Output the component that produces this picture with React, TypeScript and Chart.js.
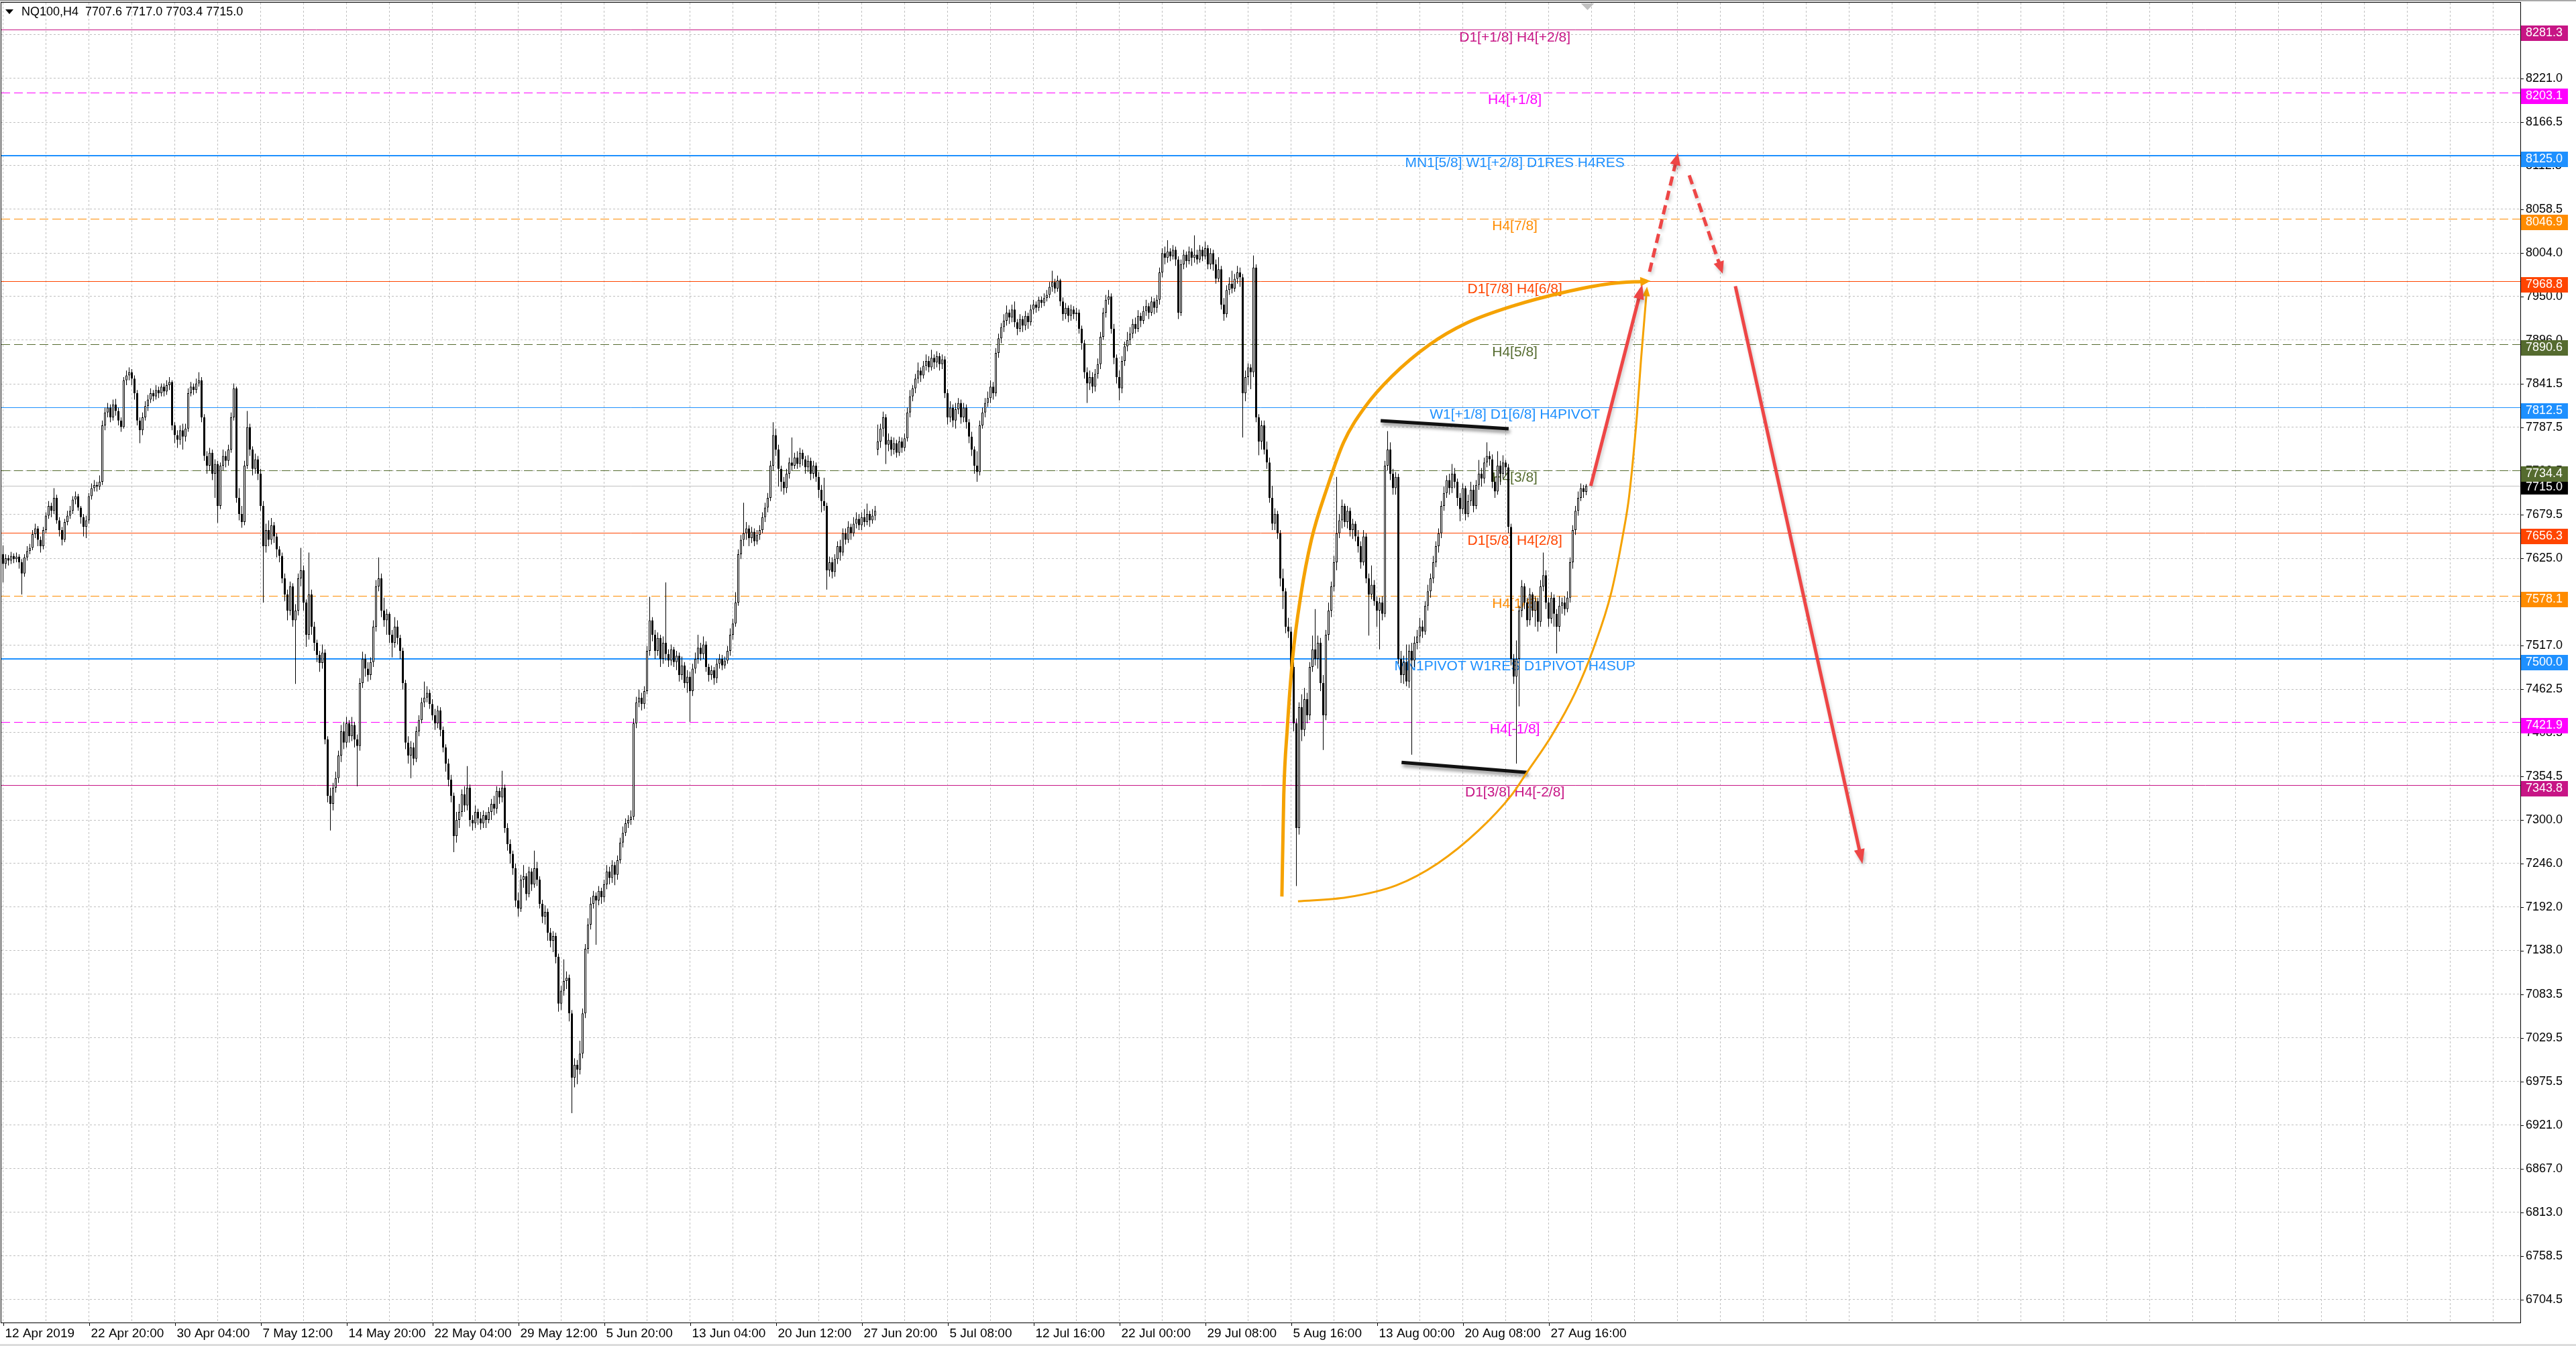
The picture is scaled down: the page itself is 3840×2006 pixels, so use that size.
import React, { useEffect, useRef } from "react";
import { Chart, registerables } from "chart.js";

Chart.register(...registerables);

// ---------------- DATA ----------------
const symbolTitle = "NQ100,H4";

const opens = [
7630,7618,7625,7622,7628,7624,7627,7620,7606,7626,
7634,7638,7655,7662,7648,7640,7660,7678,7690,7684,
7700,7672,7660,7648,7670,7678,7684,7698,7702,7688,
7676,7664,7672,7702,7712,7716,7714,7720,7790,7806,
7812,7800,7816,7808,7796,7788,7846,7852,7856,7848,
7830,7796,7784,7800,7814,7822,7830,7826,7834,7830,
7838,7832,7840,7844,7790,7778,7772,7784,7776,7786,
7830,7838,7834,7842,7846,7800,7752,7740,7756,7730,
7742,7690,7740,7752,7746,7760,7800,7836,7700,7680,
7670,7740,7788,7760,7736,7748,7730,7690,7640,7660,
7648,7666,7652,7636,7628,7600,7580,7560,7590,7548,
7560,7600,7610,7570,7530,7580,7540,7520,7505,7495,
7508,7400,7330,7320,7340,7352,7380,7410,7396,7420,
7404,7418,7400,7392,7470,7500,7488,7480,7496,7540,
7590,7600,7560,7548,7556,7530,7520,7540,7526,7510,
7470,7396,7380,7390,7376,7410,7424,7446,7452,7458,
7444,7430,7420,7436,7412,7390,7370,7350,7330,7280,
7300,7310,7332,7318,7340,7300,7296,7310,7302,7296,
7306,7300,7310,7320,7314,7336,7328,7340,7290,7270,
7258,7240,7200,7190,7226,7230,7208,7236,7220,7240,
7226,7196,7180,7186,7160,7150,7156,7130,7072,7088,
7100,7104,7060,6980,6996,6990,7010,7060,7140,7170,
7196,7206,7200,7212,7204,7220,7236,7228,7244,7232,
7250,7272,7284,7296,7300,7304,7420,7446,7452,7444,
7460,7510,7548,7530,7510,7526,7500,7520,7506,7498,
7512,7496,7504,7480,7492,7470,7478,7460,7488,7500,
7514,7506,7518,7490,7480,7486,7476,7494,7500,7492,
7498,7510,7530,7544,7570,7630,7648,7656,7662,7650,
7658,7646,7654,7660,7676,7688,7700,7740,7778,7760,
7736,7720,7712,7730,7744,7740,7750,7742,7756,7748,
7738,7746,7730,7740,7726,7710,7696,7690,7610,7620,
7608,7624,7640,7632,7656,7648,7664,7656,7668,7674,
7666,7676,7670,7680,7672,7678,7760,7770,7786,7800,
7766,7772,7760,7768,7756,7770,7762,7774,7806,7826,
7836,7848,7858,7852,7864,7870,7862,7874,7868,7876,
7866,7872,7830,7800,7812,7796,7810,7818,7800,7812,
7794,7776,7760,7740,7732,7790,7806,7818,7824,7838,
7830,7880,7898,7912,7920,7930,7924,7934,7918,7910,
7922,7914,7926,7918,7934,7940,7936,7946,7942,7948,
7952,7962,7968,7960,7970,7944,7928,7936,7926,7934,
7928,7930,7910,7892,7856,7842,7850,7838,7854,7866,
7900,7930,7946,7950,7910,7874,7850,7836,7870,7888,
7896,7904,7916,7910,7926,7920,7932,7938,7930,7944,
7936,7946,7980,8004,7998,8006,8000,8008,7996,7930,
7990,8002,7994,8006,7998,8002,7996,8008,8000,8010,
7990,8004,7990,7972,7984,7940,7928,7958,7966,7960,
7972,7980,7974,7830,7850,7862,7856,7986,7800,7770,
7790,7760,7744,7700,7668,7680,7656,7600,7584,7540,
7534,7490,7420,7290,7440,7412,7450,7430,7490,7512,
7500,7520,7470,7430,7530,7560,7590,7620,7656,7672,
7690,7670,7684,7660,7668,7652,7640,7620,7652,7600,
7580,7592,7572,7560,7570,7556,7740,7760,7730,7712,
7726,7500,7480,7496,7472,7510,7498,7520,7528,7540,
7534,7566,7584,7600,7620,7640,7656,7690,7706,7722,
7712,7730,7720,7700,7686,7712,7680,7696,7710,7690,
7716,7730,7724,7744,7752,7748,7720,7708,7740,7730,
7744,7738,7664,7500,7478,7500,7560,7590,7570,7548,
7580,7560,7572,7546,7590,7604,7570,7550,7576,7556,
7540,7566,7570,7562,7576,7620,7660,7684,7700,7712,
7707.6
];

const highs = [
7641,7630,7629,7633,7631,7632,7630,7624,7630,7640,
7643,7660,7668,7665,7652,7664,7682,7696,7694,7712,
7704,7676,7664,7674,7684,7690,7702,7708,7705,7690,
7680,7678,7706,7718,7722,7720,7728,7796,7812,7818,
7816,7822,7823,7812,7800,7850,7858,7862,7860,7852,
7834,7800,7806,7820,7828,7836,7834,7840,7838,7842,
7842,7846,7850,7846,7794,7784,7790,7792,7792,7836,
7844,7842,7848,7856,7850,7804,7758,7762,7760,7748,
7746,7744,7760,7758,7766,7806,7842,7838,7712,7690,
7746,7808,7792,7764,7755,7752,7736,7696,7668,7672,
7675,7670,7656,7640,7632,7606,7586,7596,7594,7568,
7606,7638,7616,7574,7632,7586,7546,7524,7510,7518,
7512,7404,7340,7346,7360,7386,7418,7422,7428,7424,
7428,7422,7406,7476,7509,7506,7496,7502,7548,7598,
7626,7606,7576,7562,7558,7536,7552,7548,7530,7514,
7474,7404,7398,7396,7416,7430,7452,7472,7466,7462,
7450,7438,7442,7440,7416,7394,7376,7356,7334,7310,
7320,7338,7342,7367,7344,7306,7318,7314,7310,7312,
7310,7316,7326,7330,7342,7340,7361,7344,7296,7276,
7262,7246,7210,7232,7244,7234,7242,7240,7262,7248,
7230,7201,7194,7190,7166,7162,7160,7134,7094,7127,
7112,7108,7064,7004,7002,7026,7066,7146,7178,7204,
7212,7210,7218,7216,7226,7244,7242,7250,7248,7256,
7278,7292,7302,7306,7312,7426,7453,7462,7458,7466,
7516,7577,7552,7536,7533,7530,7528,7595,7512,7518,
7515,7510,7508,7503,7496,7486,7484,7494,7508,7530,
7520,7528,7522,7494,7492,7490,7500,7506,7505,7503,
7516,7538,7550,7583,7636,7654,7694,7670,7666,7664,
7662,7660,7666,7682,7694,7706,7746,7794,7786,7766,
7740,7726,7736,7750,7775,7756,7758,7762,7760,7752,
7753,7750,7746,7744,7732,7716,7725,7694,7627,7626,
7630,7646,7648,7662,7662,7671,7668,7676,7682,7680,
7682,7686,7693,7684,7686,7690,7791,7792,7807,7804,
7780,7776,7775,7772,7776,7775,7780,7812,7834,7840,
7854,7868,7862,7870,7878,7876,7884,7878,7882,7880,
7878,7876,7835,7820,7816,7818,7824,7822,7818,7816,
7798,7782,7764,7758,7796,7812,7824,7832,7846,7844,
7886,7904,7917,7928,7939,7934,7940,7944,7922,7928,
7926,7932,7930,7940,7946,7944,7950,7950,7954,7958,
7968,7982,7972,7976,7972,7949,7942,7939,7940,7938,
7936,7934,7914,7896,7862,7858,7856,7860,7873,7906,
7936,7952,7958,7954,7916,7878,7858,7876,7894,7906,
7912,7922,7924,7933,7930,7938,7946,7942,7950,7948,
7952,7986,8010,8012,8020,8010,8014,8012,8000,7996,
8008,8006,8012,8010,8026,8008,8014,8012,8018,8014,
8010,8008,7996,7999,7988,7948,7964,7974,7982,7978,
7988,7986,7978,7858,7867,7866,8001,7990,7804,7796,
7796,7770,7750,7715,7687,7684,7660,7612,7588,7551,
7540,7496,7426,7446,7456,7464,7458,7496,7529,7562,
7529,7526,7480,7536,7570,7596,7628,7726,7680,7698,
7693,7690,7688,7674,7671,7660,7646,7660,7656,7606,
7616,7598,7578,7576,7578,7746,7783,7769,7736,7732,
7730,7510,7504,7518,7518,7520,7528,7536,7551,7548,
7572,7592,7606,7628,7646,7662,7696,7714,7728,7730,
7742,7737,7724,7706,7718,7715,7704,7720,7716,7722,
7747,7737,7750,7769,7758,7754,7726,7758,7746,7753,
7747,7742,7668,7506,7523,7566,7598,7594,7576,7588,
7583,7578,7576,7598,7632,7610,7576,7583,7580,7562,
7578,7576,7578,7584,7626,7666,7690,7708,7718,7716,
7717
];

const lows = [
7595,7612,7616,7618,7619,7620,7612,7580,7602,7622,
7630,7635,7650,7640,7632,7636,7656,7674,7676,7680,
7668,7652,7641,7645,7666,7674,7680,7692,7684,7668,
7652,7650,7668,7698,7708,7708,7710,7716,7784,7800,
7794,7796,7802,7790,7782,7786,7840,7846,7840,7822,
7790,7768,7778,7796,7808,7818,7820,7822,7824,7826,
7826,7828,7834,7784,7768,7762,7766,7760,7770,7782,
7826,7828,7830,7838,7794,7746,7730,7734,7722,7700,
7669,7686,7734,7738,7740,7756,7796,7694,7672,7663,
7666,7736,7752,7728,7730,7722,7684,7570,7632,7640,
7642,7644,7626,7620,7594,7572,7548,7554,7540,7469,
7554,7590,7560,7515,7524,7530,7510,7496,7484,7488,
7394,7322,7287,7312,7334,7346,7372,7388,7390,7396,
7398,7390,7342,7386,7464,7478,7472,7474,7490,7534,
7584,7552,7540,7530,7520,7502,7514,7518,7500,7462,
7388,7370,7352,7368,7372,7404,7420,7440,7446,7438,
7424,7412,7414,7404,7384,7360,7342,7322,7260,7272,
7290,7304,7310,7312,7292,7287,7290,7294,7288,7290,
7290,7296,7300,7306,7308,7320,7322,7284,7262,7246,
7232,7192,7180,7186,7216,7200,7204,7212,7216,7218,
7190,7172,7170,7150,7142,7136,7122,7062,7064,7082,
7090,7050,6936,6968,6972,6984,7004,7054,7134,7164,
7190,7145,7194,7196,7198,7214,7220,7222,7219,7226,
7246,7266,7280,7290,7294,7300,7414,7440,7436,7438,
7456,7504,7522,7500,7504,7490,7494,7498,7490,7492,
7490,7486,7472,7474,7464,7458,7422,7454,7482,7494,
7498,7500,7484,7472,7474,7468,7470,7488,7486,7488,
7494,7504,7524,7540,7566,7624,7640,7648,7640,7644,
7640,7642,7648,7656,7670,7682,7696,7734,7752,7714,
7708,7704,7706,7724,7734,7736,7736,7738,7740,7730,
7732,7722,7724,7720,7700,7682,7684,7586,7602,7600,
7602,7618,7622,7628,7642,7644,7648,7652,7662,7660,
7660,7664,7666,7664,7668,7672,7753,7762,7776,7742,
7758,7752,7754,7750,7752,7756,7758,7770,7800,7820,
7830,7842,7844,7848,7858,7856,7858,7860,7862,7858,
7860,7824,7791,7794,7788,7786,7804,7792,7794,7786,
7768,7752,7730,7720,7728,7786,7800,7813,7818,7822,
7826,7874,7892,7906,7914,7916,7918,7912,7902,7906,
7906,7908,7910,7914,7928,7930,7932,7936,7938,7944,
7948,7956,7954,7956,7938,7920,7922,7918,7920,7922,
7920,7904,7884,7848,7818,7834,7830,7832,7848,7860,
7896,7924,7940,7904,7866,7842,7821,7830,7864,7882,
7890,7898,7904,7906,7912,7916,7926,7922,7926,7928,
7930,7940,7974,7990,7992,7994,7996,7988,7922,7926,
7984,7986,7990,7988,7992,7990,7992,7994,7996,7984,
7984,7982,7966,7968,7934,7920,7924,7952,7954,7956,
7966,7962,7775,7820,7840,7835,7850,7794,7753,7760,
7754,7736,7694,7660,7660,7649,7590,7562,7532,7526,
7482,7410,7218,7282,7398,7404,7420,7424,7484,7492,
7488,7460,7387,7424,7523,7552,7584,7610,7650,7662,
7664,7662,7652,7649,7646,7632,7612,7616,7594,7529,
7574,7566,7540,7512,7548,7552,7734,7722,7704,7704,
7494,7470,7469,7466,7464,7381,7490,7512,7520,7526,
7530,7560,7576,7594,7614,7632,7650,7684,7700,7704,
7706,7712,7690,7671,7680,7672,7676,7690,7682,7686,
7710,7714,7718,7738,7740,7712,7700,7704,7716,7724,
7728,7656,7492,7469,7370,7441,7552,7562,7540,7542,
7552,7540,7534,7540,7584,7562,7540,7544,7540,7507,
7534,7556,7554,7558,7570,7612,7654,7678,7696,7700,
7703.4
];

const closes = [
7618,7625,7622,7628,7624,7627,7620,7606,7626,7634,
7638,7655,7662,7648,7640,7660,7678,7690,7684,7700,
7672,7660,7648,7670,7678,7684,7698,7702,7688,7676,
7664,7672,7702,7712,7716,7714,7720,7790,7806,7812,
7800,7816,7808,7796,7788,7846,7852,7856,7848,7830,
7796,7784,7800,7814,7822,7830,7826,7834,7830,7838,
7832,7840,7844,7790,7778,7772,7784,7776,7786,7830,
7838,7834,7842,7846,7800,7752,7740,7756,7730,7742,
7690,7740,7752,7746,7760,7800,7836,7700,7680,7670,
7740,7788,7760,7736,7748,7730,7690,7640,7660,7648,
7666,7652,7636,7628,7600,7580,7560,7590,7548,7560,
7600,7610,7570,7530,7580,7540,7520,7505,7495,7508,
7400,7330,7320,7340,7352,7380,7410,7396,7420,7404,
7418,7400,7392,7470,7500,7488,7480,7496,7540,7590,
7600,7560,7548,7556,7530,7520,7540,7526,7510,7470,
7396,7380,7390,7376,7410,7424,7446,7452,7458,7444,
7430,7420,7436,7412,7390,7370,7350,7330,7280,7300,
7310,7332,7318,7340,7300,7296,7310,7302,7296,7306,
7300,7310,7320,7314,7336,7328,7340,7290,7270,7258,
7240,7200,7190,7226,7230,7208,7236,7220,7240,7226,
7196,7180,7186,7160,7150,7156,7130,7072,7088,7100,
7104,7060,6980,6996,6990,7010,7060,7140,7170,7196,
7206,7200,7212,7204,7220,7236,7228,7244,7232,7250,
7272,7284,7296,7300,7304,7420,7446,7452,7444,7460,
7510,7548,7530,7510,7526,7500,7520,7506,7498,7512,
7496,7504,7480,7492,7470,7478,7460,7488,7500,7514,
7506,7518,7490,7480,7486,7476,7494,7500,7492,7498,
7510,7530,7544,7570,7630,7648,7656,7662,7650,7658,
7646,7654,7660,7676,7688,7700,7740,7778,7760,7736,
7720,7712,7730,7744,7740,7750,7742,7756,7748,7738,
7746,7730,7740,7726,7710,7696,7690,7610,7620,7608,
7624,7640,7632,7656,7648,7664,7656,7668,7674,7666,
7676,7670,7680,7672,7678,7684,7770,7786,7800,7766,
7772,7760,7768,7756,7770,7762,7774,7806,7826,7836,
7848,7858,7852,7864,7870,7862,7874,7868,7876,7866,
7872,7830,7800,7812,7796,7810,7818,7800,7812,7794,
7776,7760,7740,7732,7790,7806,7818,7824,7838,7830,
7880,7898,7912,7920,7930,7924,7934,7918,7910,7922,
7914,7926,7918,7934,7940,7936,7946,7942,7948,7952,
7962,7968,7960,7970,7944,7928,7936,7926,7934,7928,
7930,7910,7892,7856,7842,7850,7838,7854,7866,7900,
7930,7946,7950,7910,7874,7850,7836,7870,7888,7896,
7904,7916,7910,7926,7920,7932,7938,7930,7944,7936,
7946,7980,8004,7998,8006,8000,8008,7996,7930,7990,
8002,7994,8006,7998,8002,7996,8008,8000,8010,7990,
8004,7990,7972,7984,7940,7928,7958,7966,7960,7972,
7980,7974,7830,7850,7862,7856,7986,7800,7770,7790,
7760,7744,7700,7668,7680,7656,7600,7584,7540,7534,
7490,7420,7290,7440,7412,7450,7430,7490,7512,7500,
7520,7470,7430,7530,7560,7590,7620,7656,7672,7690,
7670,7684,7660,7668,7652,7640,7620,7652,7600,7580,
7592,7572,7560,7570,7556,7740,7760,7730,7712,7726,
7500,7480,7496,7472,7510,7498,7520,7528,7540,7534,
7566,7584,7600,7620,7640,7656,7690,7706,7722,7712,
7730,7720,7700,7686,7712,7680,7696,7710,7690,7716,
7730,7724,7744,7752,7748,7720,7708,7740,7730,7744,
7738,7664,7500,7478,7500,7560,7590,7570,7548,7580,
7560,7572,7546,7590,7604,7570,7550,7576,7556,7540,
7566,7570,7562,7576,7620,7660,7684,7700,7712,7707.6,
7715
];

// x-axis time labels (one every 32 H4 bars)
const xLabelTexts = [
  "12 Apr 2019", "22 Apr 20:00", "30 Apr 04:00", "7 May 12:00", "14 May 20:00",
  "22 May 04:00", "29 May 12:00", "5 Jun 20:00", "13 Jun 04:00", "20 Jun 12:00",
  "27 Jun 20:00", "5 Jul 08:00", "12 Jul 16:00", "22 Jul 00:00", "29 Jul 08:00",
  "5 Aug 16:00", "13 Aug 00:00", "20 Aug 08:00", "27 Aug 16:00"
];
const xLabelStep = 32;
const xGridStep = 16;

// price-axis ticks
const yTickValues = [
  8275.5, 8221.0, 8166.5, 8112.5, 8058.5, 8004.0, 7950.0, 7896.0, 7841.5, 7787.5,
  7733.5, 7679.5, 7625.0, 7571.0, 7517.0, 7462.5, 7408.5, 7354.5, 7300.0, 7246.0,
  7192.0, 7138.0, 7083.5, 7029.5, 6975.5, 6921.0, 6867.0, 6813.0, 6758.5, 6704.5
];

// Murrey / pivot levels
const levelPrices = [8281.3, 8203.1, 8125.0, 8046.9, 7968.8, 7890.6, 7812.5, 7734.4, 7656.3, 7578.1, 7500.0, 7421.9, 7343.8];
const levelNames = [
  "D1[+1/8] H4[+2/8]", "H4[+1/8]", "MN1[5/8] W1[+2/8] D1RES H4RES", "H4[7/8]",
  "D1[7/8] H4[6/8]", "H4[5/8]", "W1[+1/8] D1[6/8] H4PIVOT", "H4[3/8]",
  "D1[5/8] H4[2/8]", "H4[1/8]", "MN1PIVOT W1RES D1PIVOT H4SUP", "H4[-1/8]", "D1[3/8] H4[-2/8]"
];
const levelColors = ["#C71585", "#FF00FF", "#1E90FF", "#FF8C00", "#FF4500", "#556B2F", "#1E90FF", "#556B2F", "#FF4500", "#FF8C00", "#1E90FF", "#FF00FF", "#C71585"];
const levelDashed = [false, true, false, true, false, true, false, true, false, true, false, true, false];
const levelWidths = [1, 1, 2, 1, 1, 1, 1, 1, 1, 1, 2, 1, 1];
const levelLabelBar = 563.4;
const bidPrice = 7715.0;

// hand-drawn annotations (bar index, price)
const curveABars = [476.6, 477.3, 478.6, 480.6, 483.6, 487.6, 493.6, 499.6, 507.6, 517.6, 531.5, 545.4, 563.4, 581.4, 598.9, 612.6];
const curveAPrices = [7205, 7331, 7413, 7501, 7578, 7648, 7714, 7769, 7813, 7851, 7890, 7917, 7939, 7955, 7966, 7969];
const curveBBars = [482.6, 500.9, 519.3, 534.6, 549.9, 562.2, 568.1, 577.0, 585.9, 592.6, 599.4, 603.8, 606.0, 608.9, 610.4, 612.6];
const curveBPrices = [7199, 7204, 7219, 7246, 7287, 7331, 7360, 7404, 7458, 7512, 7583, 7656, 7702, 7802, 7870, 7959];
const topLineBars = [513.4, 561.1];
const topLinePrices = [7795.8, 7785.8];
const bottomLineBars = [521.2, 568.1];
const bottomLinePrices = [7371.6, 7359.1];
const upArrowBars = [591.7, 610.5];
const upArrowPrices = [7714.9, 7959.4];
const dashUpBars = [613.6, 623.9];
const dashUpPrices = [7980.8, 8123.6];
const dashDownBars = [628.4, 640.4];
const dashDownPrices = [8100.6, 7983.0];
const downArrowBars = [645.6, 692.6];
const downArrowPrices = [7962.9, 7251.1];

// ---------------- LAYOUT CONSTANTS ----------------
const W = 3840;
const H = 2006;
const X_MIN = -0.625;
const X_MAX = -0.625 + 3755 / 4;
const Y_MIN = 6676.0;
const Y_MAX = 8314.9;
const FONT = '"Liberation Sans", Arial, sans-serif';
const ORANGE = "#F5A200";
const RED = "#EE4646";

const pts = (xs: number[], ys: number[]) => xs.map((v, i) => ({ x: v, y: ys[i] }));

const decorPlugin = {
  id: "mt4decor",
  beforeDraw(chart: any) {
    const ctx = chart.ctx;
    ctx.save();
    ctx.fillStyle = "#ffffff";
    ctx.fillRect(0, 0, chart.width, chart.height);
    ctx.restore();
  },
  beforeDatasetsDraw(chart: any) {
    const { ctx, chartArea: a, scales } = chart;
    const x = scales.x, y = scales.y;
    ctx.save();
    ctx.beginPath();
    ctx.rect(a.left, a.top, a.right - a.left, a.bottom - a.top);
    ctx.clip();
    const by = Math.round(y.getPixelForValue(bidPrice)) + 0.5;
    ctx.strokeStyle = "#C0C0C0";
    ctx.lineWidth = 1;
    ctx.setLineDash([]);
    ctx.beginPath();
    ctx.moveTo(a.left, by);
    ctx.lineTo(a.right, by);
    ctx.stroke();
    levelPrices.forEach((p, i) => {
      const py = y.getPixelForValue(p);
      const w = levelWidths[i];
      const yy = w % 2 ? Math.round(py) + 0.5 : Math.round(py);
      ctx.strokeStyle = levelColors[i];
      ctx.lineWidth = w;
      ctx.setLineDash(levelDashed[i] ? [13, 6] : []);
      ctx.beginPath();
      ctx.moveTo(a.left, yy);
      ctx.lineTo(a.right, yy);
      ctx.stroke();
    });
    ctx.setLineDash([]);
    ctx.font = `21px ${FONT}`;
    ctx.textAlign = "center";
    ctx.textBaseline = "middle";
    const lx = x.getPixelForValue(levelLabelBar);
    levelPrices.forEach((p, i) => {
      const py = y.getPixelForValue(p);
      ctx.fillStyle = levelColors[i];
      ctx.fillText(levelNames[i], lx, py + 11.5);
    });
    ctx.restore();
  },
  beforeDatasetDraw(chart: any, args: any) {
    const ds = chart.data.datasets[args.index];
    if (ds && ds.shadow) {
      const ctx = chart.ctx;
      ctx.save();
      ctx.shadowColor = ds.shadow;
      ctx.shadowBlur = 5;
      ctx.shadowOffsetX = 2;
      ctx.shadowOffsetY = 4;
    }
  },
  afterDatasetDraw(chart: any, args: any) {
    const ds = chart.data.datasets[args.index];
    if (ds && ds.shadow) chart.ctx.restore();
  },
  afterDatasetsDraw(chart: any) {
    const ctx = chart.ctx;
    const a = chart.chartArea;
    ctx.save();
    ctx.beginPath();
    ctx.rect(a.left, a.top, a.right - a.left, a.bottom - a.top);
    ctx.clip();
    chart.data.datasets.forEach((ds: any, i: number) => {
      if (!ds.arrowLen) return;
      const meta = chart.getDatasetMeta(i);
      const el = meta.data;
      if (!el || el.length < 2) return;
      const last = el[el.length - 1];
      let px = el[el.length - 2].x, py = el[el.length - 2].y;
      if (typeof last.cp1x === "number" && (Math.abs(last.cp1x - last.x) + Math.abs(last.cp1y - last.y)) > 0.5) {
        px = last.cp1x; py = last.cp1y;
      }
      let dx = last.x - px, dy = last.y - py;
      const len = Math.hypot(dx, dy) || 1;
      dx /= len; dy /= len;
      const L = ds.arrowLen, hw = ds.arrowHalf;
      const fwd = (ds.borderWidth / 2) * (L / hw);
      const tx = last.x + dx * fwd, ty = last.y + dy * fwd;
      const bx = tx - dx * L, byy = ty - dy * L;
      ctx.fillStyle = ds.borderColor;
      if (ds.shadow) {
        ctx.shadowColor = ds.shadow; ctx.shadowBlur = 5; ctx.shadowOffsetX = 2; ctx.shadowOffsetY = 4;
      } else {
        ctx.shadowColor = "transparent";
      }
      ctx.beginPath();
      ctx.moveTo(tx, ty);
      ctx.lineTo(bx - dy * hw, byy + dx * hw);
      ctx.lineTo(bx + dy * hw, byy - dx * hw);
      ctx.closePath();
      ctx.fill();
    });
    ctx.restore();
  },
  afterDraw(chart: any) {
    const { ctx, chartArea: a, scales } = chart;
    const x = scales.x, y = scales.y;
    ctx.save();
    ctx.fillStyle = "#A8A8A8";
    ctx.fillRect(0, 0, chart.width, 2);
    ctx.fillStyle = "#DCDCDC";
    ctx.fillRect(0, chart.height - 3, chart.width, 3);
    ctx.strokeStyle = "#000";
    ctx.lineWidth = 1;
    ctx.strokeRect(a.left - 0.5, a.top - 0.5, a.right - a.left + 1, a.bottom - a.top + 1);
    ctx.beginPath();
    yTickValues.forEach((v) => {
      const py = Math.round(y.getPixelForValue(v)) + 0.5;
      ctx.moveTo(a.right, py);
      ctx.lineTo(a.right + 5, py);
    });
    xLabelTexts.forEach((_, k) => {
      const px = Math.round(x.getPixelForValue(k * xLabelStep)) + 0.5;
      ctx.moveTo(px, a.bottom);
      ctx.lineTo(px, a.bottom + 5);
    });
    ctx.stroke();
    ctx.font = `18px ${FONT}`;
    ctx.textAlign = "left";
    ctx.textBaseline = "middle";
    const bpy = Math.round(y.getPixelForValue(bidPrice));
    ctx.fillStyle = "#000";
    ctx.fillRect(a.right + 1, bpy - 7, 70, 20);
    ctx.fillStyle = "#fff";
    ctx.fillText(bidPrice.toFixed(1), a.right + 8, bpy + 2);
    levelPrices.forEach((p, i) => {
      const py = Math.round(y.getPixelForValue(p));
      ctx.fillStyle = levelColors[i];
      ctx.fillRect(a.right + 1, py - 6, 70, 23);
      ctx.fillStyle = "#fff";
      ctx.fillText(p.toFixed(1), a.right + 8, py + 5.5);
    });
    ctx.fillStyle = "#000";
    ctx.beginPath();
    ctx.moveTo(8, 14);
    ctx.lineTo(20, 14);
    ctx.lineTo(14, 21);
    ctx.closePath();
    ctx.fill();
    ctx.font = `18px ${FONT}`;
    ctx.textBaseline = "middle";
    const last = closes.length - 1;
    const title = `${symbolTitle}  ${opens[last].toFixed(1)} ${highs[last].toFixed(1)} ${lows[last].toFixed(1)} ${closes[last].toFixed(1)}`;
    ctx.fillText(title, 32, 18);
    const sx = x.getPixelForValue(last + 0.5);
    ctx.fillStyle = "#C0C0C0";
    ctx.beginPath();
    ctx.moveTo(sx - 10, a.top + 1);
    ctx.lineTo(sx + 10, a.top + 1);
    ctx.lineTo(sx, a.top + 11);
    ctx.closePath();
    ctx.fill();
    ctx.restore();
  },
};

export default function App() {
  const ref = useRef<HTMLCanvasElement | null>(null);

  useEffect(() => {
    if (!ref.current) return;
    const wickData = highs.map((h, i) => ({ x: i, y: [lows[i], h] }));
    const bodyData = opens.map((o, i) => ({ x: i, y: [o, closes[i]] }));
    const xTicks: number[] = [];
    for (let v = 0; v <= X_MAX; v += xGridStep) xTicks.push(v);

    const lineDs = (data: any, color: string, width: number, extra: any = {}) => ({
      type: "line",
      data,
      borderColor: color,
      backgroundColor: color,
      borderWidth: width,
      pointRadius: 0,
      pointHoverRadius: 0,
      fill: false,
      tension: 0.4,
      borderCapStyle: "butt",
      borderJoinStyle: "round",
      order: 0,
      ...extra,
    });

    const chart = new Chart(ref.current, {
      type: "bar",
      data: {
        datasets: [
          {
            type: "bar",
            data: wickData,
            barThickness: 1,
            backgroundColor: "#000",
            borderWidth: 0,
            grouped: false,
            inflateAmount: 0,
            order: 3,
          } as any,
          {
            type: "bar",
            data: bodyData,
            barThickness: 3,
            backgroundColor: (c: any) => (closes[c.dataIndex] >= opens[c.dataIndex] ? "#ffffff" : "#000000"),
            borderColor: "#000",
            borderWidth: 1,
            borderSkipped: false,
            grouped: false,
            inflateAmount: 0,
            minBarLength: 1,
            order: 2,
          } as any,
          lineDs(pts(curveBBars, curveBPrices), ORANGE, 3, { cubicInterpolationMode: "monotone", arrowLen: 14, arrowHalf: 5.5 }),
          lineDs(pts(curveABars, curveAPrices), ORANGE, 5, { cubicInterpolationMode: "monotone", arrowLen: 15, arrowHalf: 7 }),
          lineDs(pts(topLineBars, topLinePrices), "#111111", 5, { tension: 0, shadow: "rgba(0,0,0,0.45)" }),
          lineDs(pts(bottomLineBars, bottomLinePrices), "#111111", 5, { tension: 0, shadow: "rgba(0,0,0,0.45)" }),
          lineDs(pts(upArrowBars, upArrowPrices), RED, 5, { tension: 0, arrowLen: 22, arrowHalf: 8, shadow: "rgba(0,0,0,0.18)" }),
          lineDs(pts(dashUpBars, dashUpPrices), RED, 5, { tension: 0, borderDash: [14, 8], arrowLen: 18, arrowHalf: 8, shadow: "rgba(0,0,0,0.18)" }),
          lineDs(pts(dashDownBars, dashDownPrices), RED, 5, { tension: 0, borderDash: [14, 8], arrowLen: 18, arrowHalf: 8, shadow: "rgba(0,0,0,0.18)" }),
          lineDs(pts(downArrowBars, downArrowPrices), RED, 5, { tension: 0, arrowLen: 22, arrowHalf: 8, shadow: "rgba(0,0,0,0.18)" }),
        ] as any,
      },
      options: {
        responsive: false,
        animation: false,
        devicePixelRatio: 1,
        events: [],
        layout: { padding: { left: 2, top: 4, right: 0, bottom: 0 } },
        plugins: {
          legend: { display: false },
          tooltip: { enabled: false },
          title: { display: false },
        },
        scales: {
          x: {
            type: "linear",
            position: "bottom",
            min: X_MIN,
            max: X_MAX,
            offset: false,
            grid: { color: "#C0C0C0", lineWidth: 1, drawTicks: false, offset: false },
            border: { display: false, dash: [3, 3] },
            ticks: {
              autoSkip: false,
              maxRotation: 0,
              minRotation: 0,
              align: "start",
              labelOffset: 3,
              padding: 5,
              color: "#000",
              font: { family: FONT, size: 19 },
              callback: (v: any) => {
                const n = Math.round(Number(v));
                if (n % xLabelStep !== 0) return "";
                return xLabelTexts[n / xLabelStep] ?? "";
              },
            },
            afterBuildTicks: (s: any) => {
              s.ticks = xTicks.map((v) => ({ value: v }));
            },
            afterFit: (s: any) => {
              s.height = 35;
              s.paddingLeft = 0;
              s.paddingRight = 0;
            },
          },
          y: {
            type: "linear",
            position: "right",
            min: Y_MIN,
            max: Y_MAX,
            grid: { color: "#C0C0C0", lineWidth: 1, drawTicks: false },
            border: { display: false, dash: [3, 3] },
            ticks: {
              autoSkip: false,
              padding: 8,
              color: "#000",
              font: { family: FONT, size: 18 },
              callback: (v: any) => Number(v).toFixed(1),
            },
            afterBuildTicks: (s: any) => {
              s.ticks = yTickValues.map((v) => ({ value: v }));
            },
            afterFit: (s: any) => {
              s.width = 83;
              s.paddingTop = 0;
              s.paddingBottom = 0;
            },
          },
        },
      } as any,
      plugins: [decorPlugin as any],
    });
    return () => chart.destroy();
  }, []);

  return (
    <div style={{ position: "fixed", left: 0, top: 0, width: W, height: H, background: "#fff" }}>
      <canvas ref={ref} width={W} height={H} style={{ display: "block", width: W, height: H }} />
    </div>
  );
}
